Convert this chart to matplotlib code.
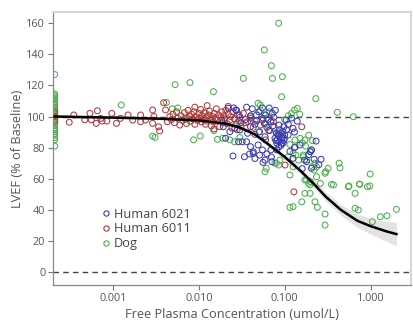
import matplotlib
matplotlib.use("Agg")
import matplotlib.pyplot as plt
from matplotlib.lines import Line2D

plt.rcParams['font.family'] = ['Open Sans', 'DejaVu Sans']

# ---------------- data ----------------
dog_conc = [0.00021]*29 + [
    0.00125, 0.0053, 0.0079, 0.0029, 0.0031, 0.0087, 0.0104, 0.0049, 0.0057, 0.0042,
    0.0148, 0.033, 0.0165, 0.019, 0.023, 0.026, 0.085, 0.058, 0.07, 0.072,
    0.094, 0.092, 0.23, 0.41, 0.63, 0.99, 0.74, 0.98, 0.56, 0.66,
    0.37, 0.43, 0.44, 0.049, 0.052, 0.13, 0.14, 0.12, 0.052, 0.058,
    0.066, 0.062, 0.11, 0.15, 0.1, 0.059, 0.061, 0.08, 0.088, 0.11,
    0.115, 0.132, 0.151, 0.172, 0.165, 0.18, 0.197, 0.205, 0.225, 0.235,
    0.295, 0.32, 0.197, 0.172, 0.235, 0.172, 0.197, 0.158, 0.225, 0.115,
    0.125, 0.24, 0.295, 0.295, 0.35, 0.55, 0.75, 0.92, 0.66, 0.72,
    1.05, 1.3, 1.55, 2.0, 0.18, 0.2, 0.26, 0.21, 0.22, 0.30,
    0.125, 0.135, 0.165, 0.145, 0.077, 0.085, 0.125, 0.19, 0.133, 0.16,
    0.19, 0.175, 0.21, 0.06, 0.045, 0.04, 0.028, 0.02, 0.012, 0.007,
    0.085, 0.075, 0.1, 0.115, 0.05, 0.03, 0.015]
dog_lvef = [81, 85, 86.5, 88, 89, 90.5, 91.5, 92.5, 94, 95, 96, 97, 98, 99, 101,
            102, 103, 104, 105, 106, 107.5, 108.5, 109.5, 110.5, 111.5, 112.5,
            113.5, 114.5, 127] + [
    107.4, 120.5, 121.8, 87.4, 86.6, 85, 87.5, 105, 105.5, 109,
    116, 124.5, 85.3, 86, 85, 83.8, 160, 142.8, 132.7, 124.5,
    125.6, 112.7, 111.5, 102.7, 99.9, 63, 56.6, 55.3, 55.3, 50.6,
    56, 70, 67, 108.5, 107.4, 104.2, 105.3, 102, 104, 101,
    103, 99, 100.5, 101.5, 98, 64.5, 66.7, 70, 72, 74.1,
    62.4, 84.9, 86, 84.9, 74.1, 72, 77.4, 78.5, 70, 67.7,
    63.5, 66.7, 56, 59.2, 61.3, 50.6, 50.6, 45.2, 45.2, 41.6,
    42, 41.6, 37.3, 30.2, 56.4, 54.9, 56.4, 54.9, 41, 39.9,
    32.4, 35.6, 36.2, 40.3, 59.2, 58.1, 57, 67.7, 65.6, 64.5,
    76.3, 75.2, 75.2, 72, 70, 68.8, 67.7, 57, 80.5, 83,
    88, 81, 84.5, 95, 97, 100, 96, 99, 102, 98,
    90, 93, 86, 82, 90, 86.5, 91]

h6011_conc = [
    0.00021, 0.00021, 0.00021,
    0.00031, 0.00035, 0.00047, 0.00054, 0.00056, 0.00066, 0.00064, 0.00072, 0.00075, 0.00085,
    0.00097, 0.0011, 0.00122, 0.0015, 0.0017, 0.0021, 0.0021, 0.0024, 0.0029, 0.003,
    0.0029, 0.0034, 0.0035, 0.0039, 0.0041, 0.0043, 0.0046,
    0.0048, 0.005, 0.0052, 0.0055, 0.0057, 0.006, 0.0062, 0.0065, 0.0068, 0.007,
    0.0072, 0.0075, 0.0078, 0.008, 0.0082, 0.0085, 0.0088, 0.009, 0.0093, 0.0096,
    0.01, 0.0102, 0.0105, 0.0108, 0.011, 0.0113, 0.0116, 0.012, 0.0123, 0.0126,
    0.013, 0.0133, 0.0137, 0.014, 0.0144, 0.0148, 0.0152, 0.0156, 0.016, 0.0165,
    0.017, 0.0175, 0.018, 0.0185, 0.019, 0.0195, 0.02, 0.0206, 0.0212, 0.022,
    0.0228, 0.0235, 0.0243, 0.025, 0.026, 0.027, 0.028, 0.029, 0.03, 0.031,
    0.033, 0.035, 0.037, 0.04, 0.043, 0.047, 0.052, 0.055, 0.074, 0.065,
    0.158, 0.128, 0.101, 0.085, 0.06, 0.045, 0.028, 0.015, 0.009, 0.0125, 0.022]
h6011_lvef = [
    100, 97, 103,
    96.3, 101, 97.9, 102, 97.9, 103.7, 95.6, 98.8, 97.1, 97.1,
    102, 95.6, 98.8, 101, 97.7, 101, 96.7, 97.7, 104.2, 100,
    95.6, 93.4, 90.7, 108.9, 104.2, 96.7, 100,
    98, 101.5, 96, 103, 99, 94.5, 100.5, 97.5, 102.5, 99,
    95.5, 104, 100, 97, 101.5, 98.5, 103, 95, 100, 97.5,
    102, 99, 104.5, 96.5, 100.5, 98, 102.5, 95, 99.5, 97,
    101, 103.5, 98.5, 94, 100, 96.5, 102, 99, 105, 97.5,
    101, 93.5, 99.5, 103, 96, 100.5, 98, 104, 95.5, 101.5,
    97.5, 100, 92.5, 103, 98.5, 95, 101, 97, 99.5, 93.5,
    102, 96, 96.7, 99, 93, 97.5, 94.5, 97.7, 96.7, 91,
    93.4, 51.6, 68.8, 88, 85, 88.5, 91.5, 92, 106, 107, 106.5]

h6021_conc = [
    0.0185, 0.0193, 0.0205, 0.022, 0.023, 0.025, 0.0263, 0.027, 0.0255, 0.0275,
    0.029, 0.0295, 0.03, 0.032, 0.034, 0.036, 0.036, 0.037, 0.039, 0.04,
    0.04, 0.042, 0.043, 0.043, 0.045, 0.047, 0.049, 0.051, 0.051, 0.055,
    0.055, 0.056, 0.059, 0.059, 0.066, 0.069, 0.069, 0.071, 0.077, 0.078,
    0.081, 0.081, 0.08, 0.086, 0.086, 0.092, 0.092, 0.098, 0.098, 0.104,
    0.11, 0.125, 0.125, 0.15, 0.17, 0.18, 0.2, 0.205, 0.205, 0.232,
    0.265, 0.082, 0.085, 0.088, 0.09, 0.093, 0.095, 0.087, 0.083, 0.079,
    0.1, 0.096, 0.091, 0.05, 0.06, 0.064, 0.072, 0.075, 0.058, 0.047,
    0.035, 0.031, 0.04, 0.062, 0.067, 0.073, 0.11, 0.12, 0.14, 0.13,
    0.105, 0.062, 0.07, 0.056, 0.045, 0.115, 0.13, 0.19, 0.22, 0.16, 0.25]
h6021_lvef = [
    97.7, 93.4, 86, 105.3, 90.2, 74.6, 92.4, 104.2, 105.5, 104,
    83.8, 101, 91.3, 83.8, 74.1, 83.8, 106, 89.2, 75.9, 93.4,
    80.6, 105, 77.4, 76.3, 95, 101, 81.7, 90.2, 75.2, 78.5,
    105.5, 98.8, 87, 72, 105.5, 96.7, 78.5, 70.9, 86, 104,
    82.8, 78.5, 89.2, 94.5, 80.6, 87, 82.8, 84.9, 93.4, 97.7,
    88.1, 92.4, 73.1, 81.7, 72, 70.9, 77.4, 78.5, 66.7, 84.2,
    72.5, 85, 87.5, 84, 89, 86, 90.5, 91.5, 88.5, 84.5,
    88, 83, 81.5, 103, 101, 98, 102, 99.5, 95.5, 97.5,
    98, 96, 100.5, 93, 91, 94, 95, 99, 97, 90,
    91.5, 76, 74, 70.5, 73, 77.5, 80, 75.5, 72.5, 66.5, 69]

fit_conc = [0.00021, 0.001, 0.0035, 0.01, 0.02, 0.03, 0.045, 0.065, 0.1, 0.15,
            0.22, 0.3, 0.45, 0.7, 1.0, 1.5, 2.0]
fit_lvef = [100, 99.3, 98.6, 97.5, 95.5, 93, 88.5, 82, 74, 65.5,
            56.5, 48.5, 40, 33, 29.5, 26.3, 24.4]
fit_lo = [99.2, 98.5, 97.8, 96.7, 94.5, 91.8, 87, 80.3, 72, 63.2,
          53.8, 45.5, 36.5, 28.8, 24.5, 20, 16.9]
fit_hi = [100.8, 100.1, 99.4, 98.3, 96.5, 94.2, 90, 83.7, 76, 67.8,
          59.2, 51.5, 43.5, 37.2, 34.5, 32.6, 31.9]

x_ticks = [0.001, 0.01, 0.1, 1.0]
x_tick_labels = ["0.001", "0.010", "0.100", "1.000"]
y_ticks = [0, 20, 40, 60, 80, 100, 120, 140, 160]
legend_labels = ["Human 6021", "Human 6011", "Dog"]

c_blue = "#3c3cb4"
c_red = "#b23a3a"
c_green = "#4fae4f"

# ---------------- figure ----------------
fig = plt.figure(figsize=(4.13, 3.2), dpi=100)
ax = fig.add_axes([0.128, 0.109, 0.867, 0.855])

ax.fill_between(fit_conc, fit_lo, fit_hi, color="#e3e3e3", lw=0, zorder=1)
ax.axhline(100, color="#444444", lw=1.0, ls=(0, (4, 3)), zorder=1.5)
ax.axhline(0, color="#444444", lw=1.0, ls=(0, (4, 3)), zorder=1.5)

ms = 18
lw = 0.75
ax.scatter(dog_conc, dog_lvef, s=ms, facecolors="none", edgecolors=c_green, linewidths=lw, zorder=2)
ax.scatter(h6011_conc, h6011_lvef, s=ms, facecolors="none", edgecolors=c_red, linewidths=lw, zorder=2.1)
ax.scatter(h6021_conc, h6021_lvef, s=ms, facecolors="none", edgecolors=c_blue, linewidths=lw, zorder=2.2)

ax.plot(fit_conc, fit_lvef, color="black", lw=1.8, zorder=3)

ax.set_xscale("log")
ax.set_xlim(0.0002, 2.95)
ax.set_ylim(-8.4, 167.5)
ax.set_xticks(x_ticks)
ax.set_xticklabels(x_tick_labels)
ax.minorticks_off()
ax.set_yticks(y_ticks)

ax.tick_params(axis="both", colors="#777777", labelcolor="#555555", labelsize=7.8,
               length=3.5, width=0.8, pad=2)
for s in ["left", "bottom"]:
    ax.spines[s].set_color("#888888")
    ax.spines[s].set_linewidth(0.9)
for s in ["top", "right"]:
    ax.spines[s].set_color("#d6d6d6")
    ax.spines[s].set_linewidth(1.5)

ax.set_xlabel("Free Plasma Concentration (umol/L)", fontsize=9.2, color="#555555", labelpad=3)
ax.set_ylabel("LVEF (% of Baseline)", fontsize=9.2, color="#555555", labelpad=2)

handles = [Line2D([], [], ls="none", marker="o", mfc="none", mec=c, ms=3.8, mew=0.8)
           for c in (c_blue, c_red, c_green)]
leg = ax.legend(handles, legend_labels, loc="lower left",
                bbox_to_anchor=(0.122, 0.105), frameon=False, fontsize=9.2,
                handlelength=0.5, handletextpad=0.35, labelspacing=0.12, borderpad=0)
for t in leg.get_texts():
    t.set_color("#444444")

fig.savefig("out.png", dpi=100)
